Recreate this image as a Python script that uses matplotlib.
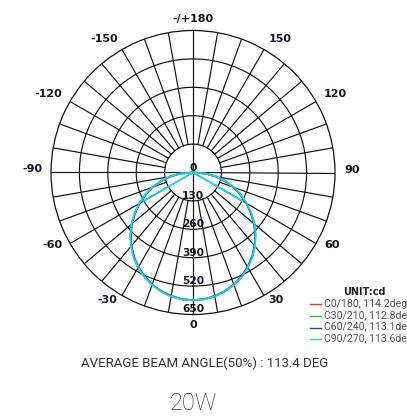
import numpy as np
import matplotlib
matplotlib.use("Agg")
import matplotlib.pyplot as plt
from matplotlib.lines import Line2D
import matplotlib.transforms as mtransforms

# ---------------- data ----------------
gamma = [-90, -85, -80, -75, -70, -65, -60, -55, -50, -45, -40, -35, -30, -25, -20, -15, -10, -5,
         0, 5, 10, 15, 20, 25, 30, 35, 40, 45, 50, 55, 60, 65, 70, 75, 80, 85, 90]
c0_180 = [0, 58, 108, 153, 198, 241, 283, 325, 366, 404, 440, 472, 501, 526, 547, 563, 575, 583,
          585, 583, 575, 563, 547, 526, 501, 472, 440, 404, 366, 325, 283, 241, 198, 153, 108, 58, 0]
c30_210 = [0, 57, 106, 151, 196, 239, 281, 323, 364, 402, 438, 470, 499, 525, 546, 562, 574, 582,
           584, 582, 574, 562, 546, 525, 499, 470, 438, 402, 364, 323, 281, 239, 196, 151, 106, 57, 0]
c60_240 = [0, 58, 107, 152, 197, 240, 282, 324, 365, 403, 439, 471, 500, 525, 546, 562, 574, 582,
           584, 582, 574, 562, 546, 525, 500, 471, 439, 403, 365, 324, 282, 240, 197, 152, 107, 58, 0]
c90_270 = [0, 60, 110, 155, 200, 243, 285, 327, 368, 406, 442, 474, 503, 528, 548, 564, 576, 583,
           585, 583, 576, 564, 548, 528, 503, 474, 442, 406, 368, 327, 285, 243, 200, 155, 110, 60, 0]
# extra C90/270 segments: straight strokes from the origin out to +/-60 deg
c90_spur_gamma = [-60, -90, 60]
c90_spur_vals = [262, 0, 262]

series_names = ["C0/180, 114.2deg", "C30/210, 112.8deg", "C60/240, 113.1deg", "C90/270, 113.6deg"]
series_colors = ["#e8343a", "#3dbb3d", "#34449c", "#22cde3"]

ring_values = [130, 260, 390, 520, 650]
ring_labels = ["0", "130", "260", "390", "520", "650"]
ring_label_values = [0, 130, 260, 390, 520, 650]
spoke_angles = list(range(0, 360, 10))

angle_ticks = [0, 30, 60, 90, 120, 150, 180, -150, -120, -90, -60, -30]
angle_labels = ["0", "30", "60", "90", "120", "150", "-/+180", "-150", "-120", "-90", "-60", "-30"]

unit_text = "UNIT:cd"
beam_text = "AVERAGE BEAM ANGLE(50%) : 113.4 DEG"
power_text = "20W"
RMAX = 650

# ---------------- figure ----------------
W, H = 407, 419
fig = plt.figure(figsize=(W / 100, H / 100), dpi=100)
cx, cy, rad = 193, 172.5, 142
ax = fig.add_axes([(cx - rad) / W, (H - cy - rad) / H, 2 * rad / W, 2 * rad / H], projection="polar")
ax.set_theta_zero_location("S")
ax.set_theta_direction(1)
ax.set_ylim(0, RMAX)
ax.grid(False)
ax.set_xticks([])
ax.set_yticks([])
ax.spines["polar"].set_color("#111111")
ax.spines["polar"].set_linewidth(0.9)

grid_kw = dict(color="#111111", lw=0.85, zorder=1)
th_full = np.linspace(0, 2 * np.pi, 721)
for rv in ring_values[:-1]:
    ax.plot(th_full, np.full_like(th_full, rv), **grid_kw)
for a in spoke_angles:
    t = np.deg2rad(a)
    r0 = 0 if a % 90 == 0 else ring_values[0]
    ax.plot([t, t], [r0, RMAX], **grid_kw)

# curves
g = np.deg2rad(gamma)
for vals, col in zip([c0_180, c30_210, c60_240], series_colors[:3]):
    ax.plot(g, vals, color=col, lw=1.2, zorder=3)
ax.plot(g, c90_270, color=series_colors[3], lw=1.4, zorder=4)
ax.plot(np.deg2rad(c90_spur_gamma), c90_spur_vals, color=series_colors[3], lw=1.4, zorder=4)

# radial value labels
for v, lab in zip(ring_label_values, ring_labels):
    ax.text(0, v, lab, ha="center", va="bottom", fontsize=7.7, fontweight="bold",
            color="#111122", zorder=5)

# angle labels
lab_r = 151 / rad * RMAX
up = mtransforms.offset_copy(ax.transData, fig=fig, x=0, y=3, units="dots")
for a, lab in zip(angle_ticks, angle_labels):
    t = np.deg2rad(a)
    if a == 0:
        ax.text(t, 153 / rad * RMAX, lab, ha="center", va="center", fontsize=8,
                fontweight="bold", color="#111122", clip_on=False)
        continue
    if a == 180:
        ha = "center"
    elif a > 0:
        ha = "left"
    else:
        ha = "right"
    ax.text(t, lab_r, lab, ha=ha, va="center", fontsize=8, fontweight="bold",
            color="#111122", clip_on=False, transform=up)

# legend (manual)
fig.text(364 / W, 1 - 292 / H, unit_text, ha="center", va="center", fontsize=7,
         fontweight="bold", color="#222222", family="DejaVu Sans")
row_y = [304, 316, 327.5, 339]
for name, col, yy in zip(series_names, series_colors, row_y):
    fig.add_artist(Line2D([310 / W, 321 / W], [1 - yy / H, 1 - yy / H], color=col, lw=1.0,
                          transform=fig.transFigure))
    fig.text(324 / W, 1 - yy / H, name, ha="left", va="center", fontsize=7.6,
             color="#555555", family="Roboto")

fig.text(205 / W, 1 - 363 / H, beam_text, ha="center", va="center", fontsize=9.5,
         color="#333333", family="Roboto")
fig.text(193 / W, 1 - 403 / H, power_text, ha="center", va="center", fontsize=17,
         color="#333333", family="Roboto", fontweight="light")

fig.savefig("out.png", dpi=100)
